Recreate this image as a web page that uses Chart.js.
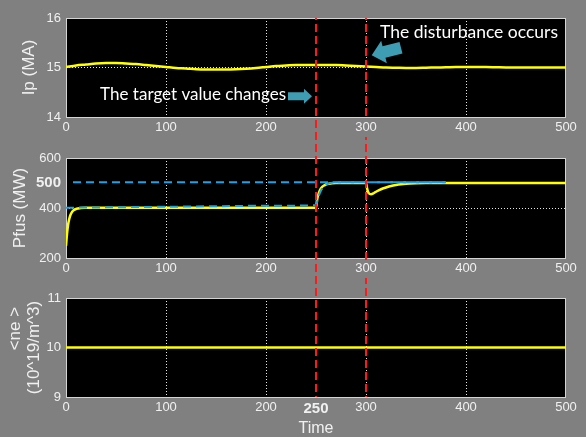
<!DOCTYPE html>
<html>
<head>
<meta charset="utf-8">
<script src="https://cdn.jsdelivr.net/npm/chart.js@4.4.0/dist/chart.umd.min.js"></script>
<style>
  html, body { margin: 0; padding: 0; background: #808080; }
  #wrap { position: relative; width: 586px; height: 437px; overflow: hidden; }
  #wrap canvas { position: absolute; left: 0; }
</style>
</head>
<body>
<div id="wrap">
  <canvas id="ipChart" width="586" height="140" style="top:0px"></canvas>
  <canvas id="pfusChart" width="586" height="140" style="top:140px"></canvas>
  <canvas id="neChart" width="586" height="157" style="top:280px"></canvas>
</div>
<script>
// ---- data ----
const ipTime = [0, 10, 20, 30, 40, 50, 60, 70, 80, 90, 100, 110, 120, 130, 140, 150, 160, 170, 180, 190,
                200, 210, 220, 230, 240, 250, 260, 270, 280, 290, 300, 310, 320, 330, 340, 350, 360, 370, 380, 390,
                400, 410, 420, 430, 440, 450, 460, 470, 480, 490, 500];
const ipValues = [15.01, 15.04, 15.06, 15.08, 15.09, 15.09, 15.08, 15.07, 15.05, 15.03, 15.01, 14.99, 14.98, 14.965, 14.96, 14.96, 14.96, 14.965, 14.975, 14.99,
                  15.01, 15.03, 15.04, 15.05, 15.05, 15.05, 15.05, 15.05, 15.04, 15.03, 15.02, 15.01, 15.0, 14.995, 14.99, 14.99, 14.995, 15.0, 15.005, 15.01,
                  15.01, 15.01, 15.01, 15.005, 15.0, 15.0, 15.0, 15.0, 15.0, 15.0, 15.0];

const pfusTime = [0, 1, 2, 3, 4, 5, 6, 8, 10, 12, 15, 20, 50, 100, 150, 200, 250,
                  251, 252, 254, 256, 258, 260, 263, 266, 270, 280, 290, 300,
                  301, 302, 303, 305, 308, 310, 315, 320, 325, 330, 335, 340,
                  350, 360, 370, 380, 400, 450, 500];
const pfusValues = [248, 295, 330, 352, 367, 377, 384, 392, 396, 398, 400, 401, 401, 401, 401, 401, 401,
                    430, 450, 472, 484, 490, 494, 497, 499, 500, 500, 500, 500,
                    480, 465, 458, 455, 460, 465, 475, 482, 488, 492, 495, 497,
                    499, 500, 500, 500, 500, 500, 500];

const refTime = [0, 50, 100, 150, 200, 250, 252, 255, 258, 262, 266, 270, 300, 340, 380];
const refValues = [401, 403, 405, 407, 409, 411, 440, 470, 487, 497, 501, 503, 503, 503, 503];

const targetTime = [7, 380];
const targetValues = [503, 503];

const neTime = [0, 500];
const neValues = [10, 10];

const eventTimes = [250, 300];

const timeTicks = [0, 100, 200, 300, 400, 500];
const timeTicksBottom = [0, 100, 200, 250, 300, 400, 500];
const timeGrid = [100, 200, 300, 400];
const timeBold = [250];
const ipTicks = [14, 15, 16];
const ipGrid = [15];
const pfusTicks = [200, 400, 500, 600];
const pfusGrid = [400];
const pfusBold = [500];
const neTicks = [9, 10, 11];
const neGrid = [10];

const toPoints = (xs, ys) => xs.map((x, i) => ({ x: x, y: ys[i] }));

const TICK_COLOR = '#f0f0f0';
const TEAL = '#3e9db2';
const SANS = '"Liberation Sans", Arial, sans-serif';

// ---- drawing helpers ----
function drawArrow(ctx, x0, y0, x1, y1, bodyHalf, headHalf, headLen) {
  const dx = x1 - x0, dy = y1 - y0;
  const len = Math.hypot(dx, dy);
  const ux = dx / len, uy = dy / len;
  const nx = -uy, ny = ux;
  const bx = x1 - ux * headLen, by = y1 - uy * headLen;
  ctx.beginPath();
  ctx.moveTo(x0 + nx * bodyHalf, y0 + ny * bodyHalf);
  ctx.lineTo(bx + nx * bodyHalf, by + ny * bodyHalf);
  ctx.lineTo(bx + nx * headHalf, by + ny * headHalf);
  ctx.lineTo(x1, y1);
  ctx.lineTo(bx - nx * headHalf, by - ny * headHalf);
  ctx.lineTo(bx - nx * bodyHalf, by - ny * bodyHalf);
  ctx.lineTo(x0 - nx * bodyHalf, y0 - ny * bodyHalf);
  ctx.closePath();
  ctx.fill();
}

function fitText(ctx, text, width, family) {
  ctx.font = '20px ' + family;
  const size = 20 * width / ctx.measureText(text).width;
  ctx.font = size.toFixed(2) + 'px ' + family;
}

function panelPlugin(canvasTop, extendUp, extendDown, labelledTimes) {
  return {
    id: 'panel',
    beforeDraw(chart) {
      const { ctx, chartArea: a } = chart;
      ctx.save();
      ctx.fillStyle = '#808080';
      ctx.fillRect(0, 0, chart.width, chart.height);
      ctx.fillStyle = '#000000';
      ctx.fillRect(a.left, a.top, a.right - a.left, a.bottom - a.top);
      ctx.restore();
    },
    beforeDatasetsDraw(chart) {
      const { ctx, chartArea: a } = chart;
      ctx.save();
      ctx.strokeStyle = '#d4d4d4';
      ctx.lineWidth = 1;
      ctx.strokeRect(a.left + 0.5, a.top + 0.5, a.right - a.left - 1, a.bottom - a.top);
      ctx.restore();
    },
    afterDatasetsDraw(chart) {
      const { ctx, chartArea: a } = chart;
      const x = chart.scales.x;
      ctx.save();
      ctx.strokeStyle = '#ff1a1a';
      ctx.lineWidth = 2;
      ctx.setLineDash([8, 4]);
      const seg = (px, y0, y1) => {
        if (y1 <= y0) return;
        ctx.lineDashOffset = (canvasTop + y0) % 12;
        ctx.beginPath();
        ctx.moveTo(px, y0);
        ctx.lineTo(px, y1);
        ctx.stroke();
      };
      eventTimes.forEach(t => {
        const px = Math.round(x.getPixelForValue(t));
        const yTop = extendUp ? 0 : a.top;
        const yBot = extendDown ? chart.height : a.bottom;
        if (extendDown && labelledTimes.includes(t)) {
          seg(px, yTop, a.bottom + 2);
          seg(px, a.bottom + 20, yBot);
        } else {
          seg(px, yTop, yBot);
        }
      });
      ctx.restore();
    }
  };
}

const annotationPlugin = {
  id: 'annotations',
  afterDraw(chart) {
    const { ctx } = chart;
    const x = chart.scales.x, y = chart.scales.y;
    ctx.save();
    ctx.fillStyle = TEAL;
    // arrow for the target change
    drawArrow(ctx, x.getPixelForValue(222), y.getPixelForValue(14.42),
              x.getPixelForValue(246), y.getPixelForValue(14.42), 4, 7.5, 8);
    // arrow for the disturbance
    drawArrow(ctx, x.getPixelForValue(335), y.getPixelForValue(15.40),
              x.getPixelForValue(305.7), y.getPixelForValue(15.25), 6, 11.5, 12.7);
    ctx.fillStyle = '#ffffff';
    ctx.textBaseline = 'middle';
    fitText(ctx, 'The target value changes', 186, 'Lato, "Open Sans", sans-serif');
    ctx.textAlign = 'right';
    ctx.fillText('The target value changes', x.getPixelForValue(220), y.getPixelForValue(14.46));
    fitText(ctx, 'The disturbance occurs', 178, 'Lato, "Open Sans", sans-serif');
    ctx.textAlign = 'left';
    ctx.fillText('The disturbance occurs', x.getPixelForValue(314), y.getPixelForValue(15.72));
    ctx.restore();
  }
};

function tickFont(boldValues) {
  return ctx => {
    const v = ctx.tick ? ctx.tick.value : null;
    return boldValues.includes(v)
      ? { family: SANS, size: 15, weight: 'bold' }
      : { family: SANS, size: 13 };
  };
}

function gridColor(values) {
  return ctx => (ctx.tick && values.includes(ctx.tick.value)) ? '#e6e6e6' : 'rgba(0,0,0,0)';
}

function xScale(ticks, bold, xHeight, title) {
  return {
    type: 'linear', min: 0, max: 500,
    afterBuildTicks: s => { s.ticks = ticks.map(v => ({ value: v })); },
    afterFit: s => { s.height = xHeight; },
    ticks: { color: TICK_COLOR, font: tickFont(bold), padding: 3, autoSkip: false, maxRotation: 0 },
    grid: { color: gridColor(timeGrid), lineWidth: 1, drawTicks: false },
    border: { display: false, dash: [1, 2] },
    title: title
  };
}

function yScale(min, max, ticks, grid, bold, title) {
  return {
    type: 'linear', min: min, max: max,
    afterBuildTicks: s => { s.ticks = ticks.map(v => ({ value: v })); },
    afterFit: s => { s.width = 66; },
    ticks: { color: TICK_COLOR, font: tickFont(bold), padding: 5, autoSkip: false },
    grid: { color: gridColor(grid), lineWidth: 1, drawTicks: false },
    border: { display: false, dash: [1, 2] },
    title: title
  };
}

function lineSet(xs, ys, color, dash) {
  return {
    data: toPoints(xs, ys),
    borderColor: color,
    borderWidth: dash ? 2 : 2.5,
    borderDash: dash || [],
    pointRadius: 0,
    fill: false,
    cubicInterpolationMode: 'monotone'
  };
}

const common = {
  responsive: false,
  animation: false,
  events: [],
  parsing: false,
  layout: { padding: { left: 0, right: 20, top: 18, bottom: 0 } },
  plugins: { legend: { display: false }, tooltip: { enabled: false } }
};

const yTitleFont = { family: SANS, size: 17 };

new Chart(document.getElementById('ipChart'), {
  type: 'line',
  data: { datasets: [lineSet(ipTime, ipValues, '#ffff00')] },
  options: Object.assign({}, common, {
    scales: {
      x: xScale(timeTicks, [], 23, { display: false }),
      y: yScale(14, 16, ipTicks, ipGrid, [],
        { display: true, text: 'Ip (MA)', color: TICK_COLOR, font: yTitleFont, padding: { top: 19, bottom: 0 } })
    }
  }),
  plugins: [panelPlugin(0, false, true, timeTicks), annotationPlugin]
});

new Chart(document.getElementById('pfusChart'), {
  type: 'line',
  data: {
    datasets: [
      lineSet(targetTime, targetValues, '#1aa3e8', [8, 5]),
      lineSet(refTime, refValues, '#1aa3e8', [8, 5]),
      lineSet(pfusTime, pfusValues, '#ffff00')
    ]
  },
  options: Object.assign({}, common, {
    scales: {
      x: xScale(timeTicks, [], 22, { display: false }),
      y: yScale(200, 600, pfusTicks, pfusGrid, pfusBold,
        { display: true, text: 'Pfus (MW)', color: TICK_COLOR, font: yTitleFont, padding: { top: 10, bottom: 0 } })
    }
  }),
  plugins: [panelPlugin(140, true, true, timeTicks)]
});

new Chart(document.getElementById('neChart'), {
  type: 'line',
  data: { datasets: [lineSet(neTime, neValues, '#ffff00')] },
  options: Object.assign({}, common, {
    scales: {
      x: xScale(timeTicksBottom, timeBold, 40,
        { display: true, text: 'Time', color: TICK_COLOR,
          font: { family: SANS, size: 16, lineHeight: 1 },
          padding: { top: 0, bottom: 0 } }),
      y: yScale(9, 11, neTicks, neGrid, [],
        { display: true, text: ['        <ne >', '(10^19/m^3)'], color: TICK_COLOR,
          font: { family: SANS, size: 17, lineHeight: 1.1 },
          padding: { top: 6, bottom: 0 } })
    }
  }),
  plugins: [panelPlugin(280, true, false, timeTicksBottom)]
});
</script>
</body>
</html>
